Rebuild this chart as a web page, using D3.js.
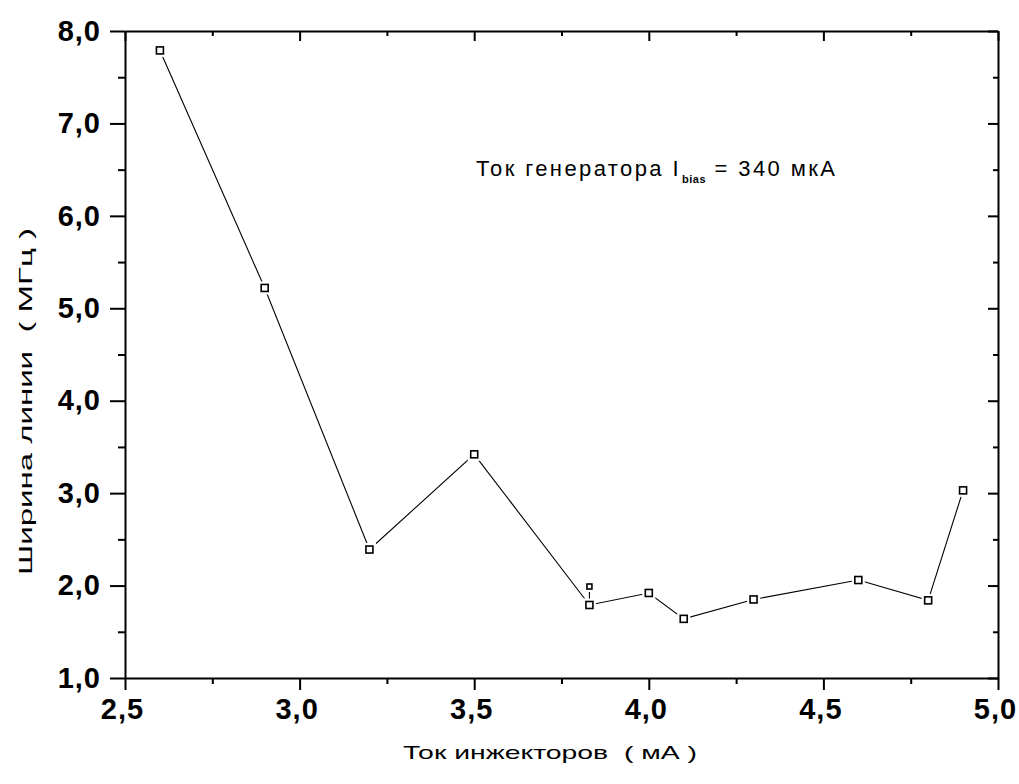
<!DOCTYPE html>
<html>
<head>
<meta charset="utf-8">
<script src="https://cdn.jsdelivr.net/npm/d3@7"></script>
<style>
  html, body { margin: 0; padding: 0; background: #fff; }
  svg { display: block; }
  text { font-family: "Liberation Sans", Arial, sans-serif; fill: #000; }
  text.title { white-space: pre; }
</style>
</head>
<body>
<svg id="chart" width="1019" height="784"></svg>
<script>
// Injector current, mA
const injectorCurrent = [2.6, 2.9, 3.2, 3.5, 3.83, 4.0, 4.1, 4.3, 4.6, 4.8, 4.9];
// Line width, MHz
const lineWidth = [7.79, 5.22, 2.39, 3.42, 1.79, 1.92, 1.64, 1.85, 2.06, 1.84, 3.03];
// Repeated measurement at 3.83 mA
const repeatCurrent = [3.83];
const repeatWidth = [1.99];

const xTicks = [2.5, 3.0, 3.5, 4.0, 4.5, 5.0];
const yTicks = [1, 2, 3, 4, 5, 6, 7, 8];
const xMinor = [2.75, 3.25, 3.75, 4.25, 4.75];
const yMinor = [1.5, 2.5, 3.5, 4.5, 5.5, 6.5, 7.5];

const fmt = d => d3.format(".1f")(d).replace(".", ",");

const svg = d3.select("#chart");
const plotLeft = 125, plotRight = 998, plotTop = 31, plotBottom = 678;

const x = d3.scaleLinear().domain([2.5, 5.0]).range([plotLeft, plotRight]);
const y = d3.scaleLinear().domain([1, 8]).range([plotBottom, plotTop]);

const axisStroke = 2;

// frame axes with major/minor ticks
function styleAxis(g) {
  g.select(".domain").attr("stroke", "#000").attr("stroke-width", axisStroke);
  g.selectAll(".tick line").attr("stroke", "#000").attr("stroke-width", axisStroke);
}
function styleLabels(g) {
  g.selectAll(".tick text")
    .attr("font-size", 29).attr("font-weight", "bold")
    .attr("letter-spacing", 1).attr("fill", "#000");
}

// bottom: outward ticks with labels
svg.append("g").attr("transform", `translate(0,${plotBottom})`)
  .call(d3.axisBottom(x).tickValues(xTicks).tickFormat(fmt).tickSize(12).tickSizeOuter(0).tickPadding(8))
  .call(styleAxis).call(styleLabels)
  .selectAll(".tick text").attr("dx", -3);
svg.append("g").attr("transform", `translate(0,${plotBottom})`)
  .call(d3.axisBottom(x).tickValues(xMinor).tickFormat("").tickSize(6).tickSizeOuter(0))
  .call(styleAxis).select(".domain").remove();

// left: outward ticks with labels
svg.append("g").attr("transform", `translate(${plotLeft},0)`)
  .call(d3.axisLeft(y).tickValues(yTicks).tickFormat(fmt).tickSize(15).tickSizeOuter(0).tickPadding(9))
  .call(styleAxis).call(styleLabels);
svg.append("g").attr("transform", `translate(${plotLeft},0)`)
  .call(d3.axisLeft(y).tickValues(yMinor).tickFormat("").tickSize(7).tickSizeOuter(0))
  .call(styleAxis).select(".domain").remove();

// top: inward ticks, no labels
svg.append("g").attr("transform", `translate(0,${plotTop})`)
  .call(d3.axisTop(x).tickValues(xTicks).tickFormat("").tickSize(-10).tickSizeOuter(0))
  .call(styleAxis);
svg.append("g").attr("transform", `translate(0,${plotTop})`)
  .call(d3.axisTop(x).tickValues(xMinor).tickFormat("").tickSize(-5).tickSizeOuter(0))
  .call(styleAxis).select(".domain").remove();

// right: inward ticks, no labels
svg.append("g").attr("transform", `translate(${plotRight},0)`)
  .call(d3.axisRight(y).tickValues(yTicks).tickFormat("").tickSize(-10).tickSizeOuter(0))
  .call(styleAxis);
svg.append("g").attr("transform", `translate(${plotRight},0)`)
  .call(d3.axisRight(y).tickValues(yMinor).tickFormat("").tickSize(-5).tickSizeOuter(0))
  .call(styleAxis).select(".domain").remove();

// data series
const pts = injectorCurrent.map((c, i) => [c, lineWidth[i]]);
const rep = repeatCurrent.map((c, i) => [c, repeatWidth[i]]);

const line = d3.line().x(d => x(d[0])).y(d => y(d[1]));
svg.append("path").datum(pts).attr("d", line)
  .attr("fill", "none").attr("stroke", "#000").attr("stroke-width", 1.1);

// short connector from the repeat point to the main point at the same current
svg.append("path").datum([rep[0], pts[4]]).attr("d", line)
  .attr("fill", "none").attr("stroke", "#000").attr("stroke-width", 1.1);

// markers: open squares with a white gap around them
function drawMarkers(data, s) {
  const g = svg.append("g");
  g.selectAll("rect.halo").data(data).join("rect")
    .attr("x", d => x(d[0]) - s / 2 - 3).attr("y", d => y(d[1]) - s / 2 - 3)
    .attr("width", s + 6).attr("height", s + 6).attr("fill", "#fff");
  g.selectAll("rect.mk").data(data).join("rect")
    .attr("x", d => x(d[0]) - s / 2).attr("y", d => y(d[1]) - s / 2)
    .attr("width", s).attr("height", s)
    .attr("fill", "#fff").attr("stroke", "#000").attr("stroke-width", 1.6);
}
drawMarkers(pts, 7);
drawMarkers(rep, 5);

// annotation
const ann = svg.append("text").attr("x", 476).attr("y", 176)
  .attr("font-size", 22).attr("letter-spacing", 2.4);
ann.append("tspan").text("Ток генератора I");
ann.append("tspan").attr("font-size", 11).attr("font-weight", "bold")
  .attr("letter-spacing", 0.5).attr("dy", 7).attr("dx", 1).text("bias");
ann.append("tspan").attr("dy", -7).text(" = 340 мкА");

// axis titles
svg.append("text").attr("class", "title").attr("x", 403).attr("y", 759)
  .attr("font-size", 19).attr("textLength", 294).attr("lengthAdjust", "spacingAndGlyphs")
  .text("Ток инжекторов  ( мА )");
svg.append("text").attr("class", "title").attr("transform", "translate(32,575) rotate(-90)")
  .attr("font-size", 19).attr("textLength", 347).attr("lengthAdjust", "spacingAndGlyphs")
  .text("Ширина линии  ( МГц )");
</script>
</body>
</html>
